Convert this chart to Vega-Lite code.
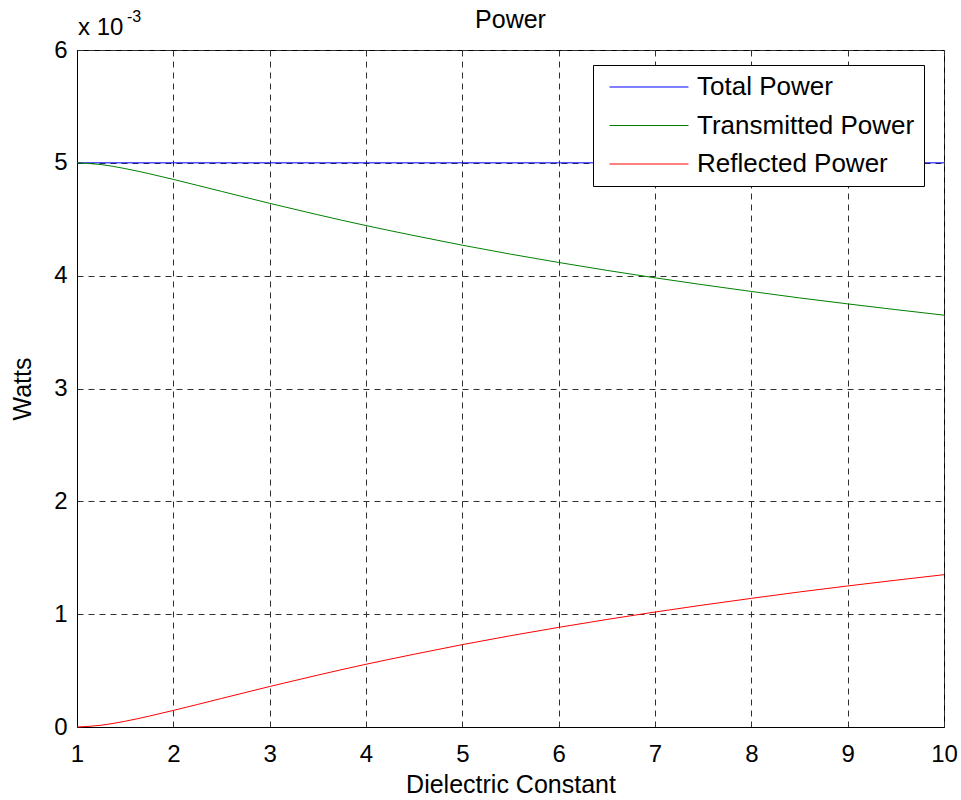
{
  "$schema": "https://vega.github.io/schema/vega-lite/v6.json",
  "autosize": "none",
  "width": 867,
  "height": 677,
  "padding": {"left": 77, "top": 50, "right": 17, "bottom": 73},
  "background": "white",
  "title": {"text": "Power", "fontSize": 25, "font": "Liberation Sans", "fontWeight": "normal", "color": "black", "offset": 0, "dy": 24, "anchor": "middle"},
  "config": {
    "font": "Liberation Sans",
    "view": {"stroke": "black", "strokeWidth": 1},
    "axis": {
      "domainColor": "black",
      "labelColor": "black",
      "titleColor": "black",
      "labelFontSize": 24,
      "titleFontSize": 25,
      "titleFontWeight": "normal",
      "labelFont": "Liberation Sans",
      "titleFont": "Liberation Sans",
      "ticks": false,
      "grid": true,
      "gridColor": "#303030",
      "gridDash": [6, 5],
      "gridWidth": 1,
      "gridOpacity": 1
    }
  },
  "datasets": {
    "power": [
      {"e": 1, "series": "Total Power", "p": 0.005},
      {"e": 2, "series": "Total Power", "p": 0.005},
      {"e": 3, "series": "Total Power", "p": 0.005},
      {"e": 4, "series": "Total Power", "p": 0.005},
      {"e": 5, "series": "Total Power", "p": 0.005},
      {"e": 6, "series": "Total Power", "p": 0.005},
      {"e": 7, "series": "Total Power", "p": 0.005},
      {"e": 8, "series": "Total Power", "p": 0.005},
      {"e": 9, "series": "Total Power", "p": 0.005},
      {"e": 10, "series": "Total Power", "p": 0.005},
      {"e": 1, "series": "Transmitted Power", "p": 0.005},
      {"e": 1.25, "series": "Transmitted Power", "p": 0.0049845},
      {"e": 1.5, "series": "Transmitted Power", "p": 0.004949},
      {"e": 1.75, "series": "Transmitted Power", "p": 0.0049034},
      {"e": 2, "series": "Transmitted Power", "p": 0.004853},
      {"e": 2.5, "series": "Transmitted Power", "p": 0.004747},
      {"e": 3, "series": "Transmitted Power", "p": 0.004641},
      {"e": 3.5, "series": "Transmitted Power", "p": 0.00454},
      {"e": 4, "series": "Transmitted Power", "p": 0.004444},
      {"e": 4.5, "series": "Transmitted Power", "p": 0.004355},
      {"e": 5, "series": "Transmitted Power", "p": 0.00427},
      {"e": 5.5, "series": "Transmitted Power", "p": 0.004191},
      {"e": 6, "series": "Transmitted Power", "p": 0.004117},
      {"e": 6.5, "series": "Transmitted Power", "p": 0.004047},
      {"e": 7, "series": "Transmitted Power", "p": 0.003981},
      {"e": 7.5, "series": "Transmitted Power", "p": 0.003919},
      {"e": 8, "series": "Transmitted Power", "p": 0.00386},
      {"e": 8.5, "series": "Transmitted Power", "p": 0.003803},
      {"e": 9, "series": "Transmitted Power", "p": 0.00375},
      {"e": 9.5, "series": "Transmitted Power", "p": 0.003699},
      {"e": 10, "series": "Transmitted Power", "p": 0.00365},
      {"e": 1, "series": "Reflected Power", "p": 0},
      {"e": 1.25, "series": "Reflected Power", "p": 0.0000155},
      {"e": 1.5, "series": "Reflected Power", "p": 0.000051},
      {"e": 1.75, "series": "Reflected Power", "p": 0.0000966},
      {"e": 2, "series": "Reflected Power", "p": 0.000147},
      {"e": 2.5, "series": "Reflected Power", "p": 0.000253},
      {"e": 3, "series": "Reflected Power", "p": 0.000359},
      {"e": 3.5, "series": "Reflected Power", "p": 0.00046},
      {"e": 4, "series": "Reflected Power", "p": 0.000556},
      {"e": 4.5, "series": "Reflected Power", "p": 0.000645},
      {"e": 5, "series": "Reflected Power", "p": 0.00073},
      {"e": 5.5, "series": "Reflected Power", "p": 0.000809},
      {"e": 6, "series": "Reflected Power", "p": 0.000883},
      {"e": 6.5, "series": "Reflected Power", "p": 0.000953},
      {"e": 7, "series": "Reflected Power", "p": 0.001019},
      {"e": 7.5, "series": "Reflected Power", "p": 0.001081},
      {"e": 8, "series": "Reflected Power", "p": 0.00114},
      {"e": 8.5, "series": "Reflected Power", "p": 0.001197},
      {"e": 9, "series": "Reflected Power", "p": 0.00125},
      {"e": 9.5, "series": "Reflected Power", "p": 0.001301},
      {"e": 10, "series": "Reflected Power", "p": 0.00135}
    ],
    "note": [
      {"e": 1, "p": 0.006, "label": "x 10", "kind": "base"},
      {"e": 1, "p": 0.006, "label": "-3", "kind": "exp"}
    ]
  },
  "layer": [
    {
      "data": {"name": "power"},
      "mark": {"type": "line", "strokeWidth": 1, "interpolate": "monotone"},
      "encoding": {
        "x": {
          "field": "e", "type": "quantitative",
          "scale": {"domain": [1, 10], "nice": false, "zero": false},
          "axis": {"title": "Dielectric Constant", "values": [1,2,3,4,5,6,7,8,9,10], "format": "d", "labelPadding": 15, "titlePadding": 6, "labelFlush": false}
        },
        "y": {
          "field": "p", "type": "quantitative",
          "scale": {"domain": [0, 0.006], "nice": false},
          "axis": {"title": "Watts", "values": [0, 0.001, 0.002, 0.003, 0.004, 0.005, 0.006], "labelExpr": "format(datum.value*1000, 'd')", "labelPadding": 10, "titlePadding": 18, "labelFlush": false}
        },
        "color": {
          "field": "series", "type": "nominal",
          "scale": {"domain": ["Total Power", "Transmitted Power", "Reflected Power"], "range": ["#0000ff", "#008000", "#ff0000"]},
          "legend": {
            "title": null,
            "orient": "none",
            "legendX": 516,
            "legendY": 15,
            "symbolType": "M-3.29,0H3.29",
            "symbolSize": 576,
            "symbolStrokeWidth": 1,
            "symbolOffset": 34,
            "labelFontSize": 26,
            "labelFont": "Liberation Sans",
            "labelColor": "black",
            "labelOffset": 35,
            "labelLimit": 400,
            "rowPadding": 12.5,
            "padding": 9,
            "strokeColor": "black",
            "fillColor": "white",
            "cornerRadius": 0
          }
        },
        "order": {"field": "e", "type": "quantitative"}
      }
    },
    {
      "data": {"name": "note"},
      "transform": [{"filter": "datum.kind === 'base'"}],
      "mark": {"type": "text", "align": "left", "baseline": "alphabetic", "fontSize": 24, "font": "Liberation Sans", "color": "black", "dx": 1, "dy": -15},
      "encoding": {
        "x": {"field": "e", "type": "quantitative"},
        "y": {"field": "p", "type": "quantitative"},
        "text": {"field": "label"}
      }
    },
    {
      "data": {"name": "note"},
      "transform": [{"filter": "datum.kind === 'exp'"}],
      "mark": {"type": "text", "align": "left", "baseline": "alphabetic", "fontSize": 16, "font": "Liberation Sans", "color": "black", "dx": 50, "dy": -28},
      "encoding": {
        "x": {"field": "e", "type": "quantitative"},
        "y": {"field": "p", "type": "quantitative"},
        "text": {"field": "label"}
      }
    }
  ]
}
